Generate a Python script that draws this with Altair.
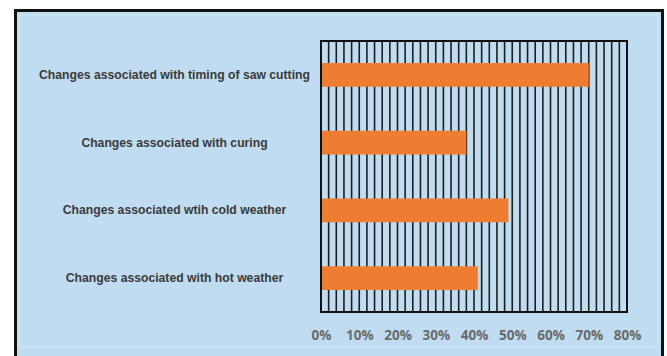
import altair as alt
import pandas as pd

# Survey categories and share of respondents
categories = [
    "Changes associated with timing of saw cutting",
    "Changes associated with curing",
    "Changes associated wtih cold weather",
    "Changes associated with hot weather",
]
shares = [70, 38, 49, 41]

# Axis ticks (percent) and vertical grid positions
tick_values = [0, 10, 20, 30, 40, 50, 60, 70, 80]
grid_values = [0, 2, 4, 6, 8, 10, 12, 14, 16, 18, 20, 22, 24, 26, 28, 30, 32, 34, 36, 38,
               40, 42, 44, 46, 48, 50, 52, 54, 56, 58, 60, 62, 64, 66, 68, 70, 72, 74, 76, 78, 80]

bars_df = pd.DataFrame({"category": categories, "share": shares})
grid_df = pd.DataFrame({"pos": grid_values})

W, H = 306, 271
LEFT, TOP = 321, 41

x_scale = alt.Scale(domain=[0, 80], nice=False, zero=True)
x_axis = alt.Axis(
    title=None,
    values=tick_values,
    labelExpr="datum.value + '%'",
    labelOverlap=False,
    labelFlush=False,
    domain=False,
    ticks=False,
    grid=False,
    labelPadding=16,
    labelFont="Open Sans",
    labelFontWeight="bold",
    labelFontSize=13.5,
    labelColor="#6a6a6a",
    zindex=1,
)

# Light-blue panel with a black frame around the whole figure
panel = alt.Chart(alt.Data(values=[{}])).mark_rect(
    fill="#c0dcf0", stroke="#111111", strokeWidth=3
).encode(
    x=alt.value(15.5 - LEFT),
    x2=alt.value(662.5 - LEFT),
    y=alt.value(10.5 - TOP),
    y2=alt.value(380 - TOP),
)

inner = alt.Chart(alt.Data(values=[{}])).mark_rect(
    fill="transparent", stroke="#d0e5f4", strokeWidth=1.2
).encode(
    x=alt.value(19 - LEFT),
    x2=alt.value(658 - LEFT),
    y=alt.value(15 - TOP),
    y2=alt.value(347 - TOP),
)

grid = alt.Chart(grid_df).mark_rule(color="#1e1e1e", strokeWidth=1.6).encode(
    x=alt.X("pos:Q", scale=x_scale, axis=x_axis),
    y=alt.value(0),
    y2=alt.value(H),
)

bars = alt.Chart(bars_df).mark_bar(color="#ee7d31").encode(
    y=alt.Y(
        "category:N",
        sort=categories,
        scale=alt.Scale(paddingInner=0.65, paddingOuter=0.325),
        axis=alt.Axis(
            title=None,
            domain=False,
            ticks=False,
            labelAlign="center",
            labelPadding=147,
            labelLimit=400,
            labelFont="Liberation Sans",
            labelFontWeight="bold",
            labelFontSize=12.2,
            labelColor="#3a3a3a",
            zindex=1,
        ),
    ),
    x=alt.X("share:Q", scale=x_scale, axis=x_axis),
)

frame = alt.Chart(alt.Data(values=[{}])).mark_rect(
    fill="transparent", stroke="#111111", strokeWidth=2
).encode(
    x=alt.value(0),
    x2=alt.value(W),
    y=alt.value(0),
    y2=alt.value(H),
)

chart = alt.layer(panel, inner, grid, bars, frame).properties(
    width=W,
    height=H,
    autosize=alt.AutoSizeParams(type="none"),
    padding={"left": LEFT, "top": TOP, "right": 667 - LEFT - W, "bottom": 356 - TOP - H},
    background="white",
).configure_view(stroke=None)

chart.save("out.html", embed_options={"renderer": "svg", "actions": False})
